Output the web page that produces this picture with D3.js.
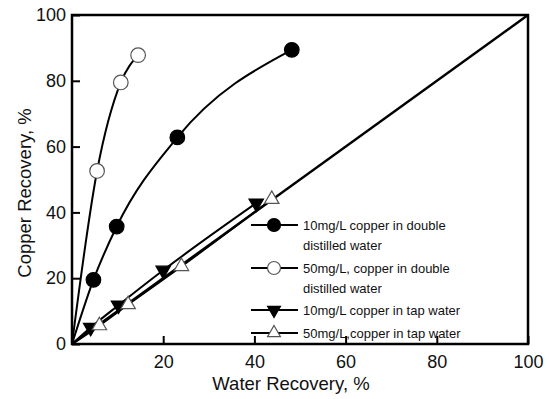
<!DOCTYPE html>
<html><head><meta charset="utf-8">
<script src="https://cdn.jsdelivr.net/npm/d3@7"></script>
<style>body{margin:0;background:#fff}svg{display:block;font-family:"Liberation Sans",Arial,sans-serif}</style>
</head><body>
<svg id="chart" width="550" height="399"></svg>
<script>
// Data
const xTicks = [20, 40, 60, 80, 100];
const yTicks = [0, 20, 40, 60, 80, 100];
const seriesNames = [
  ["10mg/L copper in double", "distilled water"],
  ["50mg/L, copper in double", "distilled water"],
  ["10mg/L copper in tap water"],
  ["50mg/L,copper in tap water"]
];
const dd10X = [4.7, 9.8, 23.1, 48.2];
const dd10Y = [19.5, 35.7, 62.8, 89.4];
const dd50X = [5.5, 10.7, 14.5];
const dd50Y = [52.6, 79.5, 87.8];
const tap10X = [4.1, 10.2, 20.0, 40.4];
const tap10Y = [5.0, 11.8, 22.4, 42.8];
const tap50X = [6.0, 12.3, 24.0, 43.8];
const tap50Y = [5.6, 12.0, 23.6, 44.0];
const diagX = [0, 100];
const diagY = [0, 100];
const origin = [0, 0];

const svg = d3.select("#chart");
const x = d3.scaleLinear().domain([0, 100]).range([72, 528]);
const y = d3.scaleLinear().domain([0, 100]).range([344, 15]);

const series = [
  {xs: dd10X, ys: dd10Y, shape: "circle", fill: "#000", stroke: "#000", lw: 2},
  {xs: dd50X, ys: dd50Y, shape: "circle", fill: "#fff", stroke: "#555", lw: 2},
  {xs: tap10X, ys: tap10Y, shape: "tridown", fill: "#000", stroke: "#000", lw: 2},
  {xs: tap50X, ys: tap50Y, shape: "triup", fill: "#fff", stroke: "#555", lw: 2}
];

const line = d3.line().x(d => x(d[0])).y(d => y(d[1])).curve(d3.curveMonotoneX);

// diagonal
svg.append("path").datum(diagX.map((v, i) => [v, diagY[i]]))
  .attr("d", d3.line().x(d => x(d[0])).y(d => y(d[1])))
  .attr("fill", "none").attr("stroke", "#000").attr("stroke-width", 2.5);

series.forEach(s => {
  const pts = [[origin[0], origin[1]]].concat(s.xs.map((v, i) => [v, s.ys[i]]));
  svg.append("path").datum(pts).attr("d", line)
    .attr("fill", "none").attr("stroke", "#000").attr("stroke-width", s.lw);
});

function drawMarker(g, s, cx, cy, r) {
  if (s.shape === "circle") {
    g.append("circle").attr("cx", cx).attr("cy", cy).attr("r", r)
      .attr("fill", s.fill).attr("stroke", s.stroke).attr("stroke-width", 1.2);
  } else {
    const sym = d3.symbol().type(d3.symbolTriangle).size(r * r * 1.7)();
    g.append("path").attr("d", sym)
      .attr("transform", `translate(${cx},${cy})` + (s.shape === "tridown" ? " rotate(180)" : ""))
      .attr("fill", s.fill).attr("stroke", s.stroke).attr("stroke-width", 1.2);
  }
}

series.forEach(s => {
  const g = svg.append("g");
  s.xs.forEach((v, i) => drawMarker(g, s, x(v), y(s.ys[i]), 7.3));
});

// Frame
svg.append("rect").attr("x", x(0)).attr("y", y(100))
  .attr("width", x(100) - x(0)).attr("height", y(0) - y(100))
  .attr("fill", "none").attr("stroke", "#000").attr("stroke-width", 2.5);

// Axes with inward ticks
const xAxis = d3.axisBottom(x).tickValues(xTicks).tickSize(-8).tickPadding(14).tickFormat(d3.format("d"));
const gx = svg.append("g").attr("transform", `translate(0,${y(0)})`).call(xAxis);
const yAxis = d3.axisLeft(y).tickValues(yTicks).tickSize(-8).tickPadding(14).tickFormat(d3.format("d"));
const gy = svg.append("g").attr("transform", `translate(${x(0)},0)`).call(yAxis);
[gx, gy].forEach(g => {
  g.select(".domain").remove();
  g.selectAll(".tick line").attr("stroke", "#000").attr("stroke-width", 2);
  g.selectAll(".tick text").attr("font-size", 18).attr("fill", "#111")
    .attr("font-family", '"Liberation Sans",Arial,sans-serif');
});
gx.selectAll(".tick text").attr("dy", "0.71em").attr("y", 11);
gy.selectAll(".tick text").attr("x", -6);

// Axis titles
svg.append("text").attr("x", 291).attr("y", 390).attr("text-anchor", "middle")
  .attr("font-size", 18.5).attr("fill", "#111").text("Water Recovery, %");
svg.append("text").attr("transform", "translate(31,193) rotate(-90)").attr("text-anchor", "middle")
  .attr("font-size", 18.5).attr("fill", "#111").text("Copper Recovery, %");

// Legend
const rowY = [[225, 245], [268, 288], [310], [333]];
series.forEach((s, i) => {
  const g = svg.append("g");
  const cy = rowY[i][0];
  g.append("line").attr("x1", 251).attr("x2", 298).attr("y1", cy).attr("y2", cy)
    .attr("stroke", "#000").attr("stroke-width", 2);
  drawMarker(g, s, 274, cy, 6.5);
  seriesNames[i].forEach((t, j) => {
    g.append("text").attr("x", 303).attr("y", rowY[i][j] + 4.5)
      .attr("font-size", 13).attr("fill", "#111").text(t);
  });
});
</script>
</body></html>
